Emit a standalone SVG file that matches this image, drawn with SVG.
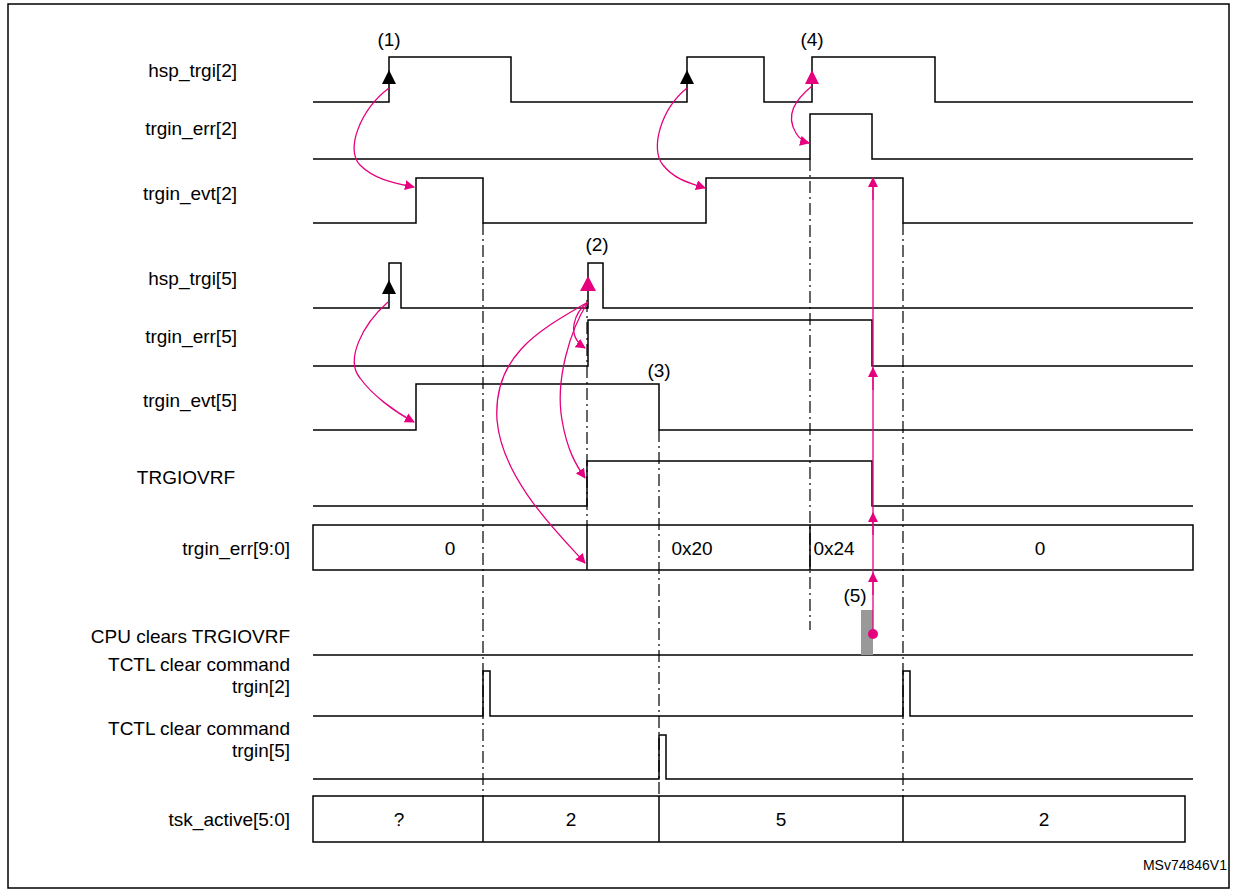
<svg xmlns="http://www.w3.org/2000/svg" width="1237" height="896" viewBox="0 0 1237 896">
<style>
.s{fill:none;stroke:#000;stroke-width:1.5}
.d{fill:none;stroke:#000;stroke-width:1.2;stroke-dasharray:12,4,2,4}
.m{fill:none;stroke:#e6007e;stroke-width:1.3}
text{font-family:"Liberation Sans",Arial,sans-serif;font-size:19px;fill:#000}
.c{text-anchor:middle}
.e{text-anchor:end}
</style>
<defs>
<marker id="ah" markerWidth="10" markerHeight="10" refX="9" refY="5" orient="auto" markerUnits="userSpaceOnUse"><path d="M0,0 L10,5 L0,10 z" fill="#e6007e"/></marker>
</defs>
<rect x="8" y="4" width="1221" height="884" fill="#fff" stroke="#000" stroke-width="1.5"/>
<g id="labels">
<text x="237" y="77" class="e">hsp_trgi[2]</text>
<text x="237" y="135" class="e">trgin_err[2]</text>
<text x="237" y="200" class="e">trgin_evt[2]</text>
<text x="237" y="285" class="e">hsp_trgi[5]</text>
<text x="237" y="343" class="e">trgin_err[5]</text>
<text x="237" y="407" class="e">trgin_evt[5]</text>
<text x="235" y="484" class="e">TRGIOVRF</text>
<text x="290" y="555" class="e">trgin_err[9:0]</text>
<text x="290" y="643" class="e">CPU clears TRGIOVRF</text>
<text x="290" y="671" class="e">TCTL clear command</text>
<text x="290" y="693" class="e">trgin[2]</text>
<text x="290" y="735" class="e">TCTL clear command</text>
<text x="290" y="757" class="e">trgin[5]</text>
<text x="290" y="826" class="e">tsk_active[5:0]</text>
<text x="1227" y="870" class="e" style="font-size:14px">MSv74846V1</text>
</g>
<g id="dashlines">
<path class="d" d="M483,223 V796 M587,300 V525 M659,430 V796 M810,159 V630 M903,223 V796"/>
</g>
<g id="hsp_trgi2"><path class="s" d="M313,102 H389 V57 H511 V102 H687 V57 H764 V102 H812 V57 H935 V102 H1193"/></g>
<g id="trgin_err2"><path class="s" d="M313,159 H810 V114 H872 V159 H1193"/></g>
<g id="trgin_evt2"><path class="s" d="M313,223 H416 V178 H483 V223 H706 V178 H903 V223 H1193"/></g>
<g id="hsp_trgi5"><path class="s" d="M313,308 H389 V263 H401 V308 H588 V263 H603 V308 H1193"/></g>
<g id="trgin_err5"><path class="s" d="M313,366 H588 V320 H872 V366 H1193"/></g>
<g id="trgin_evt5"><path class="s" d="M313,430 H416 V384 H659 V430 H1193"/></g>
<g id="trgiovrf"><path class="s" d="M313,506 H587 V461 H872 V506 H1193"/></g>
<g id="trgin_err90"><rect class="s" x="313" y="525" width="880" height="45"/><path class="s" d="M587,525 V570 M810,525 V570"/>
<text x="450" y="555" class="c">0</text><text x="692" y="555" class="c">0x20</text><text x="834" y="555" class="c">0x24</text><text x="1040" y="555" class="c">0</text></g>
<g id="cpu"><path class="s" d="M313,655 H1193"/><rect x="861" y="610" width="12" height="45" fill="#999"/><text x="855" y="602" class="c">(5)</text></g>
<g id="tctl2"><path class="s" d="M313,716 H483 V671 H490 V716 H903 V671 H910 V716 H1193"/></g>
<g id="tctl5"><path class="s" d="M313,779 H659 V735 H666 V779 H1193"/></g>
<g id="tsk"><rect class="s" x="313" y="796" width="872" height="46"/><path class="s" d="M483,796 V842 M659,796 V842 M903,796 V842"/>
<text x="399" y="826" class="c">?</text><text x="571" y="826" class="c">2</text><text x="781" y="826" class="c">5</text><text x="1044" y="826" class="c">2</text></g>
<g id="notes">
<text x="389" y="46" class="c">(1)</text><text x="597" y="251" class="c">(2)</text><text x="659" y="377" class="c">(3)</text><text x="812" y="46" class="c">(4)</text>
</g>
<g id="connectors">
<path d="M389,70 L382,84 L396,84 z" fill="#000"/>
<path d="M687,70 L680,84 L694,84 z" fill="#000"/>
<path d="M389,280 L382,294 L396,294 z" fill="#000"/>
<path d="M812,70 L805,84 L819,84 z" fill="#e6007e"/>
<path d="M588,276 L580,291 L596,291 z" fill="#e6007e"/>
<path class="m" marker-end="url(#ah)" d="M389,88 C360,110 345,150 360,165 C375,180 395,183 414,187"/>
<path class="m" marker-end="url(#ah)" d="M687,88 C660,110 650,150 663,165 C675,180 690,183 705,188"/>
<path class="m" marker-end="url(#ah)" d="M812,86 C795,100 785,115 796,133 C800,140 805,142 809,143"/>
<path class="m" marker-end="url(#ah)" d="M388,302 C362,325 345,360 360,378 C372,395 395,412 414,422"/>
<path class="m" marker-end="url(#ah)" d="M588,302 C575,312 565,335 585,348"/>
<path class="m" marker-end="url(#ah)" d="M588,302 C570,330 555,380 562,420 C567,450 576,465 585,478"/>
<path class="m" marker-end="url(#ah)" d="M588,302 C540,330 493,355 497,420 C502,480 560,535 585,563"/>
<path class="m" d="M873,634 V180"/>
<path class="m" marker-end="url(#ah)" d="M873,200 V178"/>
<path class="m" marker-end="url(#ah)" d="M873,390 V368"/>
<path class="m" marker-end="url(#ah)" d="M873,535 V513"/>
<path class="m" marker-end="url(#ah)" d="M873,595 V573"/>
<circle cx="873" cy="634" r="5" fill="#e6007e"/>
</g>
</svg>
